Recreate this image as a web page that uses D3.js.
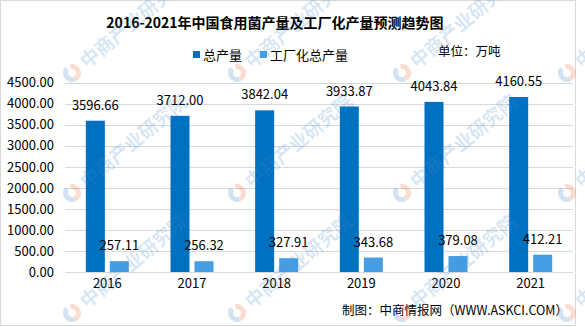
<!DOCTYPE html>
<html>
<head>
<meta charset="utf-8">
<script src="https://cdn.jsdelivr.net/npm/d3@7/dist/d3.min.js"></script>
<style>
  html, body { margin: 0; padding: 0; background: #fff; }
  svg { display: block; }
  text { font-family: "Noto Sans CJK SC", "Noto Sans", sans-serif; }
</style>
</head>
<body>
<svg id="chart" width="585" height="327"></svg>
<script>
// Chart data
const years = ["2016", "2017", "2018", "2019", "2020", "2021"];
const totalOutput = [3596.66, 3712.00, 3842.04, 3933.87, 4043.84, 4160.55];
const factoryOutput = [257.11, 256.32, 327.91, 343.68, 379.08, 412.21];
const seriesNames = ["总产量", "工厂化总产量"];
const yTicks = [0, 500, 1000, 1500, 2000, 2500, 3000, 3500, 4000, 4500];

const titleText = "2016-2021年中国食用菌产量及工厂化产量预测趋势图";
const unitText = "单位：万吨";
const sourceText = "制图：中商情报网（WWW.ASKCI.COM）";
const watermarkText = "中商产业研究院";

const colors = ["#0070C0", "#459EE4"];

const svg = d3.select("#chart");

// Outer frame
svg.append("rect")
  .attr("x", 0.5).attr("y", 0.5)
  .attr("width", 575).attr("height", 325)
  .attr("fill", "#fff")
  .attr("stroke", "#d9d9d9").attr("stroke-width", 1);

// Scales
const x = d3.scaleBand().domain(years).range([65, 573]).paddingInner(0.492).paddingOuter(0.246);
const inner = d3.scaleBand().domain(seriesNames).range([0, x.bandwidth()]).paddingInner(0.2083);
const y = d3.scaleLinear().domain([0, 4500]).range([272, 82.7]);

// Gridlines
svg.append("g").selectAll("line").data(yTicks).join("line")
  .attr("x1", 65).attr("x2", 573)
  .attr("y1", d => Math.round(y(d)) + 0.5).attr("y2", d => Math.round(y(d)) + 0.5)
  .attr("stroke", "#d9d9d9").attr("stroke-width", 1);

// Y axis labels
const yAxis = d3.axisLeft(y).tickValues(yTicks).tickFormat(d3.format(".2f")).tickSize(0).tickPadding(0);
const yg = svg.append("g").attr("transform", "translate(54,0)").call(yAxis);
yg.select(".domain").remove();
yg.selectAll("text").attr("font-size", 13).attr("fill", "#000")
  .attr("font-family", "'Noto Sans CJK SC', sans-serif");

// X axis labels
const xAxis = d3.axisBottom(x).tickSize(0).tickPadding(0);
const xg = svg.append("g").attr("transform", "translate(0,279)").call(xAxis);
xg.select(".domain").remove();
xg.selectAll("text").attr("font-size", 13).attr("fill", "#000")
  .attr("font-family", "'Noto Sans CJK SC', sans-serif");

// Bars
const series = [totalOutput, factoryOutput];
series.forEach((vals, si) => {
  const g = svg.append("g");
  g.selectAll("rect").data(vals).join("rect")
    .attr("x", (d, i) => x(years[i]) + inner(seriesNames[si]))
    .attr("y", d => y(d))
    .attr("width", inner.bandwidth())
    .attr("height", d => y(0) - y(d))
    .attr("fill", colors[si]);
  g.selectAll("text").data(vals).join("text")
    .attr("x", (d, i) => x(years[i]) + inner(seriesNames[si]) + inner.bandwidth() / 2)
    .attr("y", d => y(d) - 11)
    .attr("text-anchor", "middle")
    .attr("font-size", 13)
    .attr("fill", "#000")
    .text(d => d.toFixed(2));
});

// Title
svg.append("text")
  .attr("x", 275).attr("y", 28)
  .attr("text-anchor", "middle")
  .attr("font-size", 14).attr("font-weight", 700)
  .attr("fill", "#000")
  .text(titleText);

// Legend
const legendX = [193, 260];
seriesNames.forEach((name, i) => {
  svg.append("rect")
    .attr("x", legendX[i]).attr("y", 51)
    .attr("width", 7).attr("height", 7)
    .attr("fill", colors[i]);
  svg.append("text")
    .attr("x", legendX[i] + 10).attr("y", 60)
    .attr("font-size", 13).attr("fill", "#000")
    .text(name);
});

// Unit
svg.append("text")
  .attr("x", 438).attr("y", 56)
  .attr("font-size", 12.5).attr("fill", "#000")
  .text(unitText);

// Source
svg.append("text")
  .attr("x", 342).attr("y", 315)
  .attr("font-size", 12.5).attr("fill", "#000")
  .text(sourceText);

// Watermark layer
const wm = svg.append("g").attr("opacity", 0.22).style("pointer-events", "none");
const wmCols = [72, 237, 402, 567];
const wmRows = [73, 193, 313];
wmCols.forEach(cx => wmRows.forEach(cy => {
  const g = wm.append("g").attr("transform", `translate(${cx},${cy}) rotate(-40)`);
  const arc = d3.arc().innerRadius(4).outerRadius(9);
  g.append("path").attr("d", arc({startAngle: Math.PI * 0.15, endAngle: Math.PI * 1.1})).attr("fill", "#e8602c");
  g.append("path").attr("d", arc({startAngle: Math.PI * 1.1, endAngle: Math.PI * 1.95})).attr("fill", "#2f7fc4");
  g.append("text")
    .attr("x", 14).attr("y", 7)
    .attr("font-size", 19).attr("font-weight", 700)
    .attr("fill", "#4b8fd0")
    .text(watermarkText);
}));
</script>
</body>
</html>
